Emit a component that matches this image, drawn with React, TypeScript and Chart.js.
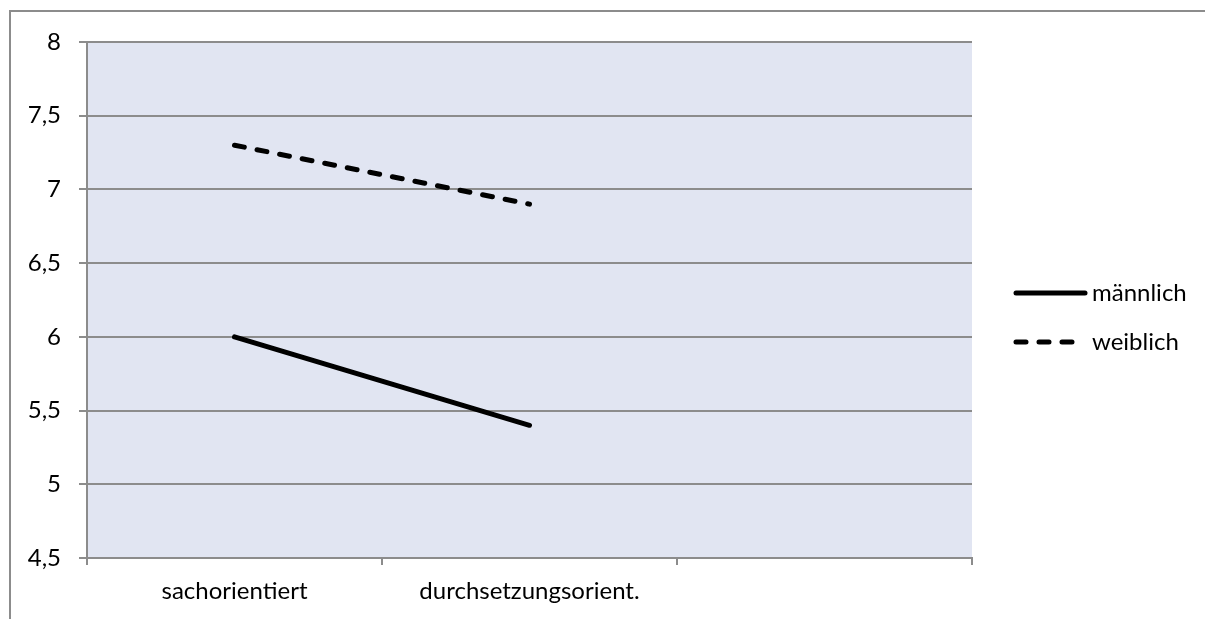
import React, { useEffect, useRef } from "react";
import { Chart, registerables } from "chart.js";

Chart.register(...registerables);

const categories = ["sachorientiert", "durchsetzungsorient.", ""];
const maennlich = [6.0, 5.4, null];
const weiblich = [7.3, 6.9, null];
const seriesNames = ["männlich", "weiblich"];

const FONT = "Lato, 'Open Sans', sans-serif";
const GRID = "#8c8c8c";

const frame = {
  id: "frame",
  beforeDraw(chart: any) {
    const { ctx, chartArea } = chart;
    ctx.save();
    ctx.fillStyle = "#e1e5f2";
    ctx.fillRect(chartArea.left, chartArea.top, chartArea.right - chartArea.left, chartArea.bottom - chartArea.top);
    ctx.strokeStyle = "#8c8c8c";
    ctx.lineWidth = 2;
    ctx.beginPath();
    ctx.moveTo(10, chart.height);
    ctx.lineTo(10, 11);
    ctx.lineTo(chart.width, 11);
    ctx.stroke();
    ctx.restore();
  },
  afterDraw(chart: any) {
    const { ctx } = chart;
    ctx.save();
    const items = chart.data.datasets;
    const ys = [293, 342];
    items.forEach((ds: any, i: number) => {
      const y = ys[i];
      const dashed = ds.borderDash && ds.borderDash.length;
      ctx.strokeStyle = ds.borderColor;
      ctx.lineWidth = ds.borderWidth;
      ctx.lineCap = "round";
      ctx.setLineDash(ds.borderDash || []);
      ctx.beginPath();
      ctx.moveTo(1016, y);
      ctx.lineTo(dashed ? 1076 : 1085, y);
      ctx.stroke();
      ctx.setLineDash([]);
      ctx.fillStyle = "#000";
      ctx.font = `24px ${FONT}`;
      ctx.textBaseline = "middle";
      ctx.textAlign = "left";
      ctx.fillText(ds.label, 1092, y);
    });
    ctx.restore();
  },
};

export default function App() {
  const ref = useRef<HTMLCanvasElement>(null);
  useEffect(() => {
    if (!ref.current) return;
    const chart = new Chart(ref.current, {
      type: "line",
      data: {
        labels: categories,
        datasets: [
          {
            label: seriesNames[0],
            data: maennlich,
            borderColor: "#000",
            borderWidth: 5,
            borderCapStyle: "round",
            pointRadius: 0,
            tension: 0,
          },
          {
            label: seriesNames[1],
            data: weiblich,
            borderColor: "#000",
            borderWidth: 5,
            borderCapStyle: "round",
            borderDash: [10, 13],
            pointRadius: 0,
            tension: 0,
          },
        ],
      },
      options: {
        responsive: false,
        animation: false,
        layout: { padding: { left: 0, top: 42, right: 233, bottom: 0 } },
        plugins: { legend: { display: false }, tooltip: { enabled: false } },
        scales: {
          x: {
            offset: true,
            grid: {
              offset: true,
              drawOnChartArea: false,
              tickLength: 7,
              color: GRID,
              lineWidth: 2,
            },
            border: { color: GRID, width: 2 },
            ticks: {
              color: "#000",
              font: { family: FONT, size: 24 },
              padding: 12,
              maxRotation: 0,
              autoSkip: false,
            },
            afterFit: (s: any) => {
              s.height = 61;
            },
          },
          y: {
            min: 4.5,
            max: 8,
            ticks: {
              stepSize: 0.5,
              color: "#000",
              font: { family: FONT, size: 24 },
              padding: 18,
              callback: (v: any) => String(v).replace(".", ","),
            },
            grid: { color: GRID, lineWidth: 2, tickLength: 8 },
            border: { color: GRID, width: 2 },
            afterFit: (s: any) => {
              s.width = 87;
            },
          },
        },
      },
      plugins: [frame],
    });
    return () => chart.destroy();
  }, []);
  return (
    <div style={{ position: "fixed", left: 0, top: 0, width: 1205, height: 619, background: "#fff" }}>
      <canvas ref={ref} width={1205} height={619} style={{ display: "block" }} />
    </div>
  );
}
